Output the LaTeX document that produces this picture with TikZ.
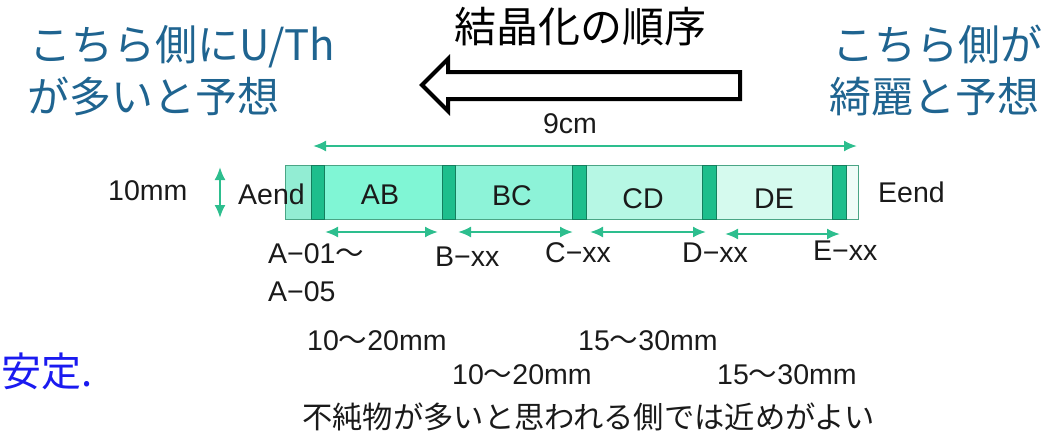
\documentclass[tikz,border=0pt]{standalone}
\usepackage{fontspec}
\setmainfont{Liberation Sans}
\newfontfamily\cjk{Noto Sans CJK JP}
\usetikzlibrary{arrows.meta}
\definecolor{bluet}{HTML}{1F6490}
\definecolor{bright}{HTML}{1A1AF0}
\definecolor{agreen}{HTML}{2DBE8E}
\definecolor{edge}{HTML}{4AA585}
\definecolor{strip}{HTML}{1DBE8C}
\definecolor{stripedge}{HTML}{147F5E}
\definecolor{cA}{HTML}{92EDD3}
\definecolor{cAB}{HTML}{80F6D5}
\definecolor{cBC}{HTML}{8DF3D8}
\definecolor{cCD}{HTML}{B6F7E4}
\definecolor{cDE}{HTML}{D5FAEE}
\definecolor{cE}{HTML}{EFFCF7}
\definecolor{ink}{HTML}{1A1A1A}
\tikzset{
  lbl/.style={font=\fontsize{28.5}{32}\selectfont, text=ink, inner sep=0pt},
  jlbl/.style={font=\cjk\fontsize{30.3}{34}\selectfont, text=ink, inner sep=0pt},
  bigblue/.style={font=\cjk\fontsize{42}{52}\selectfont, text=bluet, inner sep=0pt},
  dimarrow/.style={draw=agreen, line width=2pt, {Latex[length=13pt,width=11pt]}-{Latex[length=13pt,width=11pt]}},
  segfill/.style={draw=edge, line width=0.8pt},
  stripbox/.style={fill=strip, draw=stripedge, line width=0.8pt}
}
\newcommand{\wv}{{\cjk 〜}}
\begin{document}
\begin{tikzpicture}[x=1pt,y=-1pt]
\useasboundingbox (0,0) rectangle (1061,439);
\clip (0,0) rectangle (1061,439);

% title and hollow arrow
\node[font=\cjk\fontsize{42}{46}\selectfont, text=black, inner sep=0pt] (title) at (580,27) {結晶化の順序};
\draw[line width=4pt, fill=white, line join=miter]
  (422,85) -- (448,59) -- (448,72) -- (740,72) -- (740,99) -- (448,99) -- (448,111) -- cycle;

% blue side texts
\node[bigblue, anchor=base west] (l1) at (29,60) {こちら側にU/Th};
\node[bigblue, anchor=base west] (l2) at (27,112) {が多いと予想};
\node[bigblue, anchor=base west] (r1) at (832,60) {こちら側が};
\node[bigblue, anchor=base west] (r2) at (829,112) {綺麗と予想};
\node[font=\cjk\fontsize{40}{46}\selectfont, text=bright, inner sep=0pt, anchor=base west] (stab) at (1,386) {安定.};

% bar segments
\path[segfill, fill=cA]  (285,165) rectangle (311,219);
\path[segfill, fill=cAB] (324,165) rectangle (442,219);
\path[segfill, fill=cBC] (455,165) rectangle (572,219);
\path[segfill, fill=cCD] (586,165) rectangle (702,219);
\path[segfill, fill=cDE] (716,165) rectangle (832,219);
\path[segfill, fill=cE]  (846,165) rectangle (858,219);
\path[stripbox] (311,165) rectangle (324,219);
\path[stripbox] (442,165) rectangle (455,219);
\path[stripbox] (572,165) rectangle (586,219);
\path[stripbox] (702,165) rectangle (716,219);
\path[stripbox] (832,165) rectangle (846,219);

% dimension arrows
\coordinate (t9a) at (313,146);
\coordinate (t9b) at (857,146);
\draw[dimarrow] (t9a) -- (t9b);
\coordinate (h1) at (220,167);
\coordinate (h2) at (220,218);
\draw[dimarrow] (h1) -- (h2);
\coordinate (ab1) at (325,232); \coordinate (ab2) at (438,232);
\coordinate (bc1) at (458,232); \coordinate (bc2) at (573,232);
\coordinate (cd1) at (590,232); \coordinate (cd2) at (706,232);
\coordinate (de1) at (725,234); \coordinate (de2) at (840,234);
\draw[dimarrow] (ab1) -- (ab2);
\draw[dimarrow] (bc1) -- (bc2);
\draw[dimarrow] (cd1) -- (cd2);
\draw[dimarrow] (de1) -- (de2);

% labels
\node[lbl, anchor=base] (nine) at (570,133) {9cm};
\node[lbl, anchor=base west] (tenmm) at (108,200) {10mm};
\node[lbl, anchor=base west] (aend) at (238,204) {Aend};
\node[lbl, anchor=base] (AB) at (380,204) {AB};
\node[lbl, anchor=base] (BC) at (512,205) {BC};
\node[lbl, anchor=base] (CD) at (643,208) {CD};
\node[lbl, anchor=base] (DE) at (774,208) {DE};
\node[lbl, anchor=base west] (eend) at (878,202) {Eend};
\node[lbl, anchor=base west] (a01) at (268,263) {A−01\wv};
\node[lbl, anchor=base west] (bxx) at (435,266) {B−xx};
\node[lbl, anchor=base west] (cxx) at (545,262) {C−xx};
\node[lbl, anchor=base west] (dxx) at (682,262) {D−xx};
\node[lbl, anchor=base west] (exx) at (813,260) {E−xx};
\node[lbl, anchor=base west] (a05) at (268,301) {A−05};
\node[lbl, anchor=base west] (r1020a) at (307,350) {10\wv20mm};
\node[lbl, anchor=base west] (r1530a) at (578,350) {15\wv30mm};
\node[lbl, anchor=base west] (r1020b) at (452,384) {10\wv20mm};
\node[lbl, anchor=base west] (r1530b) at (717,384) {15\wv30mm};
\node[jlbl, anchor=base west] (note) at (302,428) {不純物が多いと思われる側では近めがよい};
\end{tikzpicture}
\end{document}
